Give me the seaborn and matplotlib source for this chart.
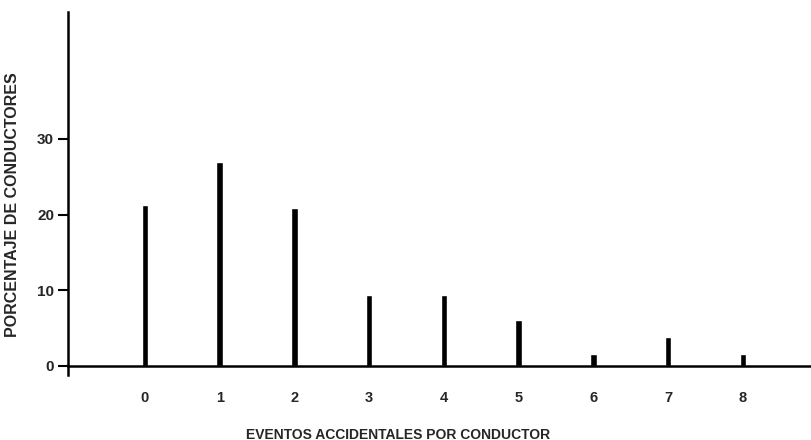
import pandas as pd
import seaborn as sns
import matplotlib.pyplot as plt

eventos = [0, 1, 2, 3, 4, 5, 6, 7, 8]
porcentaje = [21.2, 26.9, 20.9, 9.3, 9.3, 6.1, 1.5, 3.8, 1.5]
ytick_vals = [0, 10, 20, 30]

sns.set_theme(style="white")
plt.rcParams['font.family'] = ['Liberation Sans', 'DejaVu Sans']

df = pd.DataFrame({"eventos": eventos, "porcentaje": porcentaje})

fig = plt.figure(figsize=(8.11, 4.40), dpi=100)
ax = fig.add_axes([0.0838, 0.148, 0.916, 0.825])

sns.barplot(data=df, x="eventos", y="porcentaje", color="black",
            width=0.085, ax=ax, saturation=1)

ax.set_xlim(-1.03, 8.91)
ax.set_ylim(-1.2, 46.8)

for s in ["top", "right"]:
    ax.spines[s].set_visible(False)
ax.spines["bottom"].set_position(("data", 0))
ax.spines["bottom"].set_linewidth(1.8)
ax.spines["left"].set_linewidth(1.8)
ax.spines["bottom"].set_color("black")
ax.spines["left"].set_color("black")

ax.set_yticks(ytick_vals)
ax.set_yticklabels([str(v) for v in ytick_vals], fontsize=11, fontweight="bold")
ax.tick_params(axis="y", direction="out", length=7, width=1.5, color="black",
               left=True, pad=3)
ax.tick_params(axis="x", length=0, pad=18)
for lab in ax.get_xticklabels():
    lab.set_fontsize(10.5)
    lab.set_fontweight("bold")

ax.set_xlabel("EVENTOS ACCIDENTALES POR CONDUCTOR", fontsize=10, fontweight="bold")
ax.xaxis.set_label_coords(0.445, -0.145)
ax.set_ylabel("PORCENTAJE DE CONDUCTORES", fontsize=11.5, fontweight="bold")
ax.yaxis.set_label_coords(-0.064, 0.47)

fig.savefig("out.png", dpi=100)
